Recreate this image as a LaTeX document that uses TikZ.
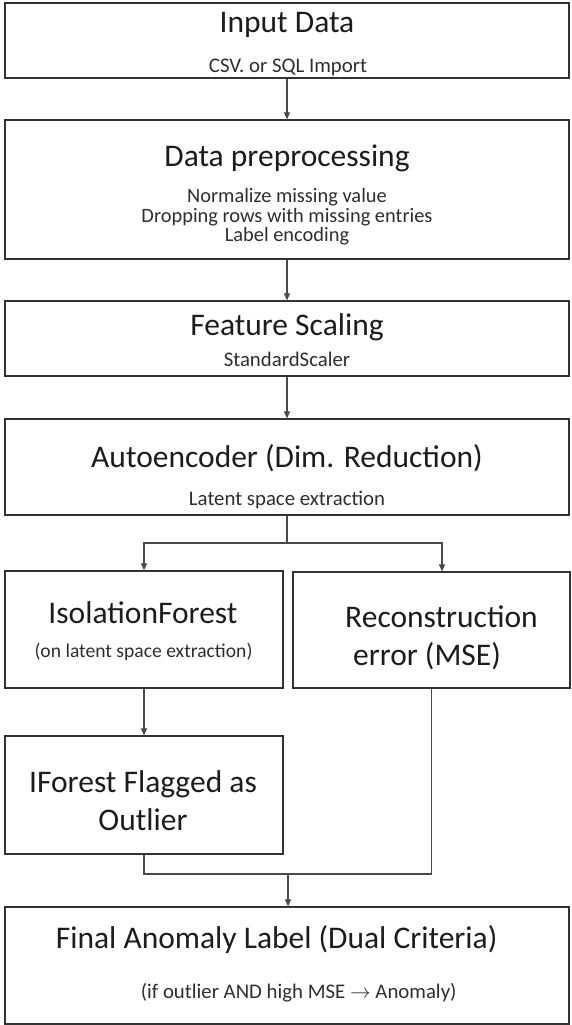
\documentclass[tikz,border=0pt]{standalone}
\usepackage{fontspec}
\setmainfont{Carlito}
\usetikzlibrary{arrows.meta,calc}

\definecolor{boxline}{HTML}{333333}
\definecolor{wire}{HTML}{4A4A4A}
\definecolor{ink}{HTML}{1C1C1C}
\definecolor{subink}{HTML}{2E2E2E}

\tikzset{
  stage/.style={draw=boxline, line width=1.2pt, fill=white, inner sep=0pt, rectangle},
  headline/.style={anchor=base, inner sep=0pt, text=ink, font=\fontsize{31.5}{31.5}\selectfont},
  detail/.style={anchor=base, inner sep=0pt, text=subink, font=\fontsize{20.8}{20.8}\selectfont},
  listdetail/.style={anchor=base, inner sep=0pt, text=subink, font=\fontsize{20.4}{20.4}\selectfont},
  smalldetail/.style={anchor=base, inner sep=0pt, text=subink, font=\fontsize{19.6}{19.6}\selectfont},
  wire/.style={draw=wire, line width=1.1pt},
  flow/.style={wire, -{Triangle[length=7pt,width=6pt]}}
}

\begin{document}
\begin{tikzpicture}[x=1pt,y=-1pt]
\useasboundingbox (0,0) rectangle (571,1025);
\fill[white] (0,0) rectangle (571,1025);

% stage boxes
\node[stage, minimum width=564pt, minimum height=75pt]  (inp) at (287,40.5)   {};
\node[stage, minimum width=564pt, minimum height=139pt] (pre) at (287,189.5)  {};
\node[stage, minimum width=564pt, minimum height=75pt]  (fsc) at (287,338.5)  {};
\node[stage, minimum width=564pt, minimum height=96pt]  (aen) at (287,467)    {};
\node[stage, minimum width=278pt, minimum height=117pt] (iso) at (144,629.5)  {};
\node[stage, minimum width=277pt, minimum height=116pt] (rec) at (431.5,630)  {};
\node[stage, minimum width=278pt, minimum height=118pt] (iff) at (144,795)    {};
\node[stage, minimum width=564pt, minimum height=117pt] (fin) at (287,965.5)  {};

% texts
\node[headline] (inpT) at (287,33) {Input Data};
\node[detail]   (inpS) at (288,73) {CSV. or SQL Import};

\node[headline]   (preT)  at (287,166.5) {Data preprocessing};
\node[listdetail] (preS1) at (287,202.5) {Normalize missing value};
\node[listdetail] (preS2) at (287,222)   {Dropping rows with missing entries};
\node[listdetail] (preS3) at (287,241.5) {Label encoding};

\node[headline] (fscT) at (287,335.5) {Feature Scaling};
\node[detail]   (fscS) at (287,366.7) {StandardScaler};

\node[headline] (aenT) at (287,467.7) {Autoencoder (Dim. Reduction)};
\node[detail]   (aenS) at (287,505)   {Latent space extraction};

\node[headline]    (isoT) at (143,623) {IsolationForest};
\node[smalldetail] (isoS) at (143.5,657) {(on latent space extraction)};

\node[headline] (recT1) at (441.5,627) {Reconstruction};
\node[headline] (recT2) at (427,665)   {error (MSE)};

\node[headline] (iffT1) at (143,792.7) {IForest Flagged as};
\node[headline] (iffT2) at (143,830.7) {Outlier};

\node[headline] (finT) at (276.7,948) {Final Anomaly Label (Dual Criteria)};
\node[detail]   (finS) at (298.7,998) {(if outlier AND high MSE $\rightarrow$ Anomaly)};

% junction points
\coordinate (split) at (287,543);
\coordinate (merge) at (288,874);

% connectors
\draw[flow] (inp.south) -- (pre.north);
\draw[flow] (pre.south) -- (fsc.north);
\draw[flow] (fsc.south) -- (aen.north);
\draw[wire] (aen.south) -- (split);
\draw[flow] (split) -| (iso.north);
\draw[flow] (split) -| ([xshift=10.5pt]rec.north);
\draw[flow] (iso.south) -- (iff.north);
\draw[wire] (iff.south) |- (rec.south |- merge) -- (rec.south);
\draw[flow] (merge) -- (merge |- fin.north);
\end{tikzpicture}
\end{document}
